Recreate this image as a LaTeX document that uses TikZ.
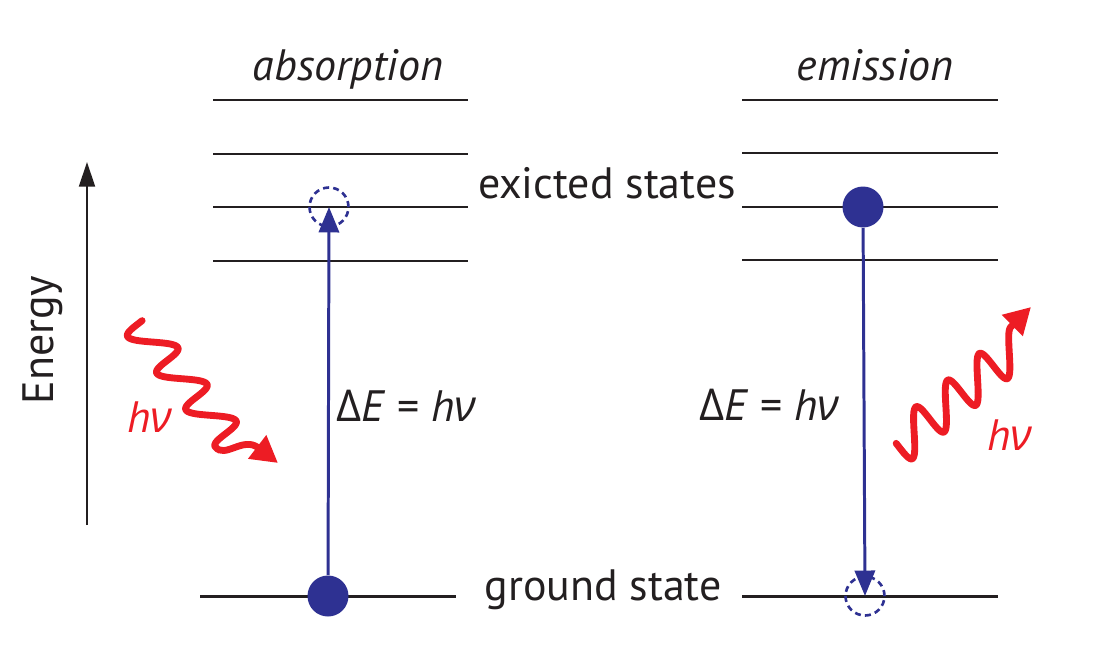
\documentclass[tikz,border=0pt]{standalone}
\usepackage{fontspec}
\setmainfont{PT Sans}
\newfontfamily\grk{Open Sans}
\usetikzlibrary{arrows.meta}
\definecolor{myblue}{HTML}{2E3192}
\definecolor{myred}{HTML}{ED1C24}
\definecolor{ink}{HTML}{231F20}
\begin{document}
\begin{tikzpicture}[x=0.02cm,y=-0.02cm,
  lvl/.style={draw=ink, line width=1.7pt},
  trans/.style={draw=myblue, line width=1.7pt, -{Triangle[length=14.5pt,width=11.5pt]}},
  electron/.style={circle, fill=myblue, minimum size=0.82cm, inner sep=0pt},
  hole/.style={circle, draw=myblue, line width=1.5pt, dash pattern=on 3.4pt off 2.4pt, minimum size=0.78cm, inner sep=0pt},
  photon/.style={draw=myred, line width=3.9pt, line cap=round, -{Triangle[length=15pt,width=16pt]}},
  lbl/.style={font=\fontsize{25}{30}\selectfont, text=ink, inner sep=0pt, anchor=base},
  ital/.style={lbl, font=\fontsize{25}{30}\selectfont\itshape},
  hnu/.style={lbl, text=myred, font=\fontsize{25}{30}\selectfont\itshape}]
\useasboundingbox (0,0) rectangle (1109,649);
% energy levels
\foreach \i/\yy in {1/100,2/154,3/207,4/261}{
  \coordinate (a\i l) at (213,\yy); \coordinate (a\i r) at (468,\yy);
  \draw[lvl] (a\i l) -- (a\i r);}
\foreach \i/\yy in {1/100,2/153,3/207,4/260}{
  \coordinate (e\i l) at (742,\yy); \coordinate (e\i r) at (998,\yy);
  \draw[lvl] (e\i l) -- (e\i r);}
\coordinate (agl) at (200,596); \coordinate (agr) at (456,596);
\coordinate (egl) at (742,596); \coordinate (egr) at (998,596);
\draw[lvl] (agl) -- (agr);
\draw[lvl] (egl) -- (egr);
% energy axis
\coordinate (eb) at (87,525); \coordinate (et) at (87,162);
\draw[draw=ink, line width=1.4pt, -{Triangle[length=14pt,width=9pt]}] (eb) -- (et);
\node[lbl, rotate=90] (ten) at (53,340) {Energy};
% electrons and holes
\node[electron] (g1) at (328,596) {};
\node[hole] (h1) at (329,207) {};
\draw[trans] (g1) -- (h1.center);
\node[electron] (x2) at (863,207) {};
\node[hole] (h2) at (865,596) {};
\draw[trans] (x2) -- (h2.center);
% photons
\coordinate (pl) at (278,463);
\coordinate (pr) at (1031,307);
\draw[photon] plot[domain=0.45:3.75, samples=180, variable=\t]
  ({123.6+29.14*\t+17.5*sin(360*\t)}, {305.4+36.66*\t-4.1*sin(360*\t)})
  .. controls (225,459) and (243,436) .. (pl);
\draw[photon] plot[domain=-0.03:3.75, samples=180, variable=\t]
  ({898.3+31.71*\t+6.4*sin(360*\t)}, {446.1-26.70*\t+19*sin(360*\t)})
  -- (pr);
% labels
\node[ital] (tabs) at (348,80) {absorption};
\node[ital] (tem) at (875,80) {emission};
\node[lbl] (tex) at (607,198) {exicted states};
\node[lbl] (tgr) at (603,600) {ground state};
\node[lbl] (de1) at (406,421) {{\grk Δ}\textit{E} = \textit{h}{\grk\itshape ν}};
\node[lbl] (de2) at (769,420) {{\grk Δ}\textit{E} = \textit{h}{\grk\itshape ν}};
\node[hnu] (hv1) at (150,432) {h{\grk ν}};
\node[hnu] (hv2) at (1010,450) {h{\grk ν}};
\end{tikzpicture}
\end{document}
